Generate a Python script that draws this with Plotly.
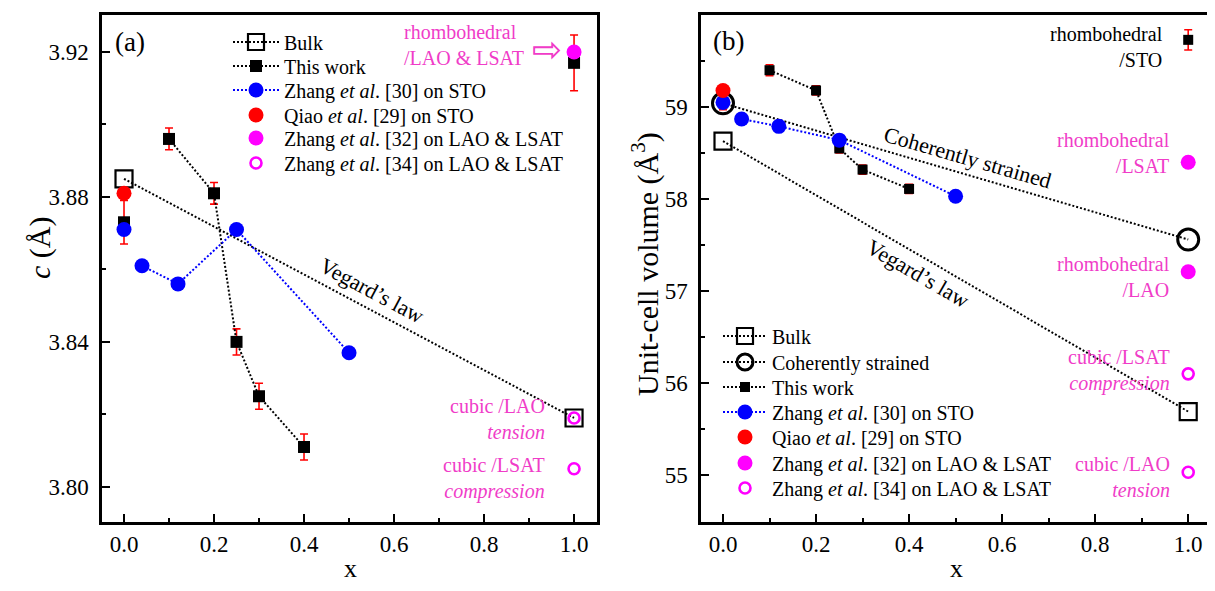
import plotly.graph_objects as go

# ---------------- Panel (a): c lattice parameter ----------------
xa_bulk = [0.0, 1.0]
ca_bulk = [3.885, 3.819]

xa_this = [0.0, None, 0.1, 0.2, 0.25, 0.3, 0.4, None, 1.0]
ca_this = [3.873, None, 3.896, 3.881, 3.840, 3.825, 3.811, None, 3.917]
ca_this_err = [0.006, 0, 0.003, 0.003, 0.0036, 0.0036, 0.0036, 0, 0.0077]
xa_this_err = [0.0, 0, 0.008, 0.008, 0.008, 0.008, 0.008, 0, 0.0]

xa_zhang30 = [0.0, None, 0.04, 0.12, 0.25, 0.5]
ca_zhang30 = [3.871, None, 3.861, 3.856, 3.871, 3.837]

xa_qiao = [0.0]
ca_qiao = [3.881]

xa_zhang32 = [1.0]
ca_zhang32 = [3.920]

xa_zhang34 = [1.0, 1.0]
ca_zhang34 = [3.819, 3.805]

# ---------------- Panel (b): unit-cell volume ----------------
xb_bulk = [0.0, 1.0]
vb_bulk = [58.63, 55.69]

xb_coh = [0.0, 1.0]
vb_coh = [59.04, 57.56]

xb_this = [0.0, None, 0.1, 0.2, 0.25, 0.3, 0.4, None, 1.0]
vb_this = [59.04, None, 59.40, 59.18, 58.55, 58.32, 58.11, None, 59.73]
vb_this_err = [0.07, 0, 0.06, 0.05, 0.05, 0.05, 0.05, 0, 0.11]
xb_this_err = [0.0, 0, 0.008, 0.008, 0.008, 0.008, 0.008, 0, 0.0]

xb_zhang30 = [0.0, None, 0.04, 0.12, 0.25, 0.5]
vb_zhang30 = [59.05, None, 58.87, 58.79, 58.64, 58.03]

xb_qiao = [0.0]
vb_qiao = [59.18]

xb_zhang32 = [1.0, 1.0]
vb_zhang32 = [58.40, 57.21]

xb_zhang34 = [1.0, 1.0]
vb_zhang34 = [56.10, 55.03]

# ---------------- styles / geometry ----------------
FONT = "Liberation Serif, Times New Roman, serif"
BLACK = "#000000"
RED = "#ff0000"
BLUE = "#0000ff"
MAG = "#ff00ff"
PINK = "#f03cc8"
DOT = "2px,2px"

# the page body has an 8px margin; figure fills the rest of the window
OFF = 8
W, H = 1215 - OFF, 591 - OFF


def px(p):  # window pixel x -> paper fraction
    return (p - OFF) / W


def py(p):  # window pixel y -> paper fraction
    return 1 - (p - OFF) / H


names = {
    "bulk": "Bulk",
    "coh": "Coherently strained",
    "this": "This work",
    "z30": "Zhang <i>et al</i>. [30] on STO",
    "qiao": "Qiao <i>et al</i>. [29] on STO",
    "z32": "Zhang <i>et al</i>. [32] on LAO &amp; LSAT",
    "z34": "Zhang <i>et al</i>. [34] on LAO &amp; LSAT",
}

fig = go.Figure()
legend_layout = {}
legend_counter = [0]


def next_legend(x_px, y_px, itemwidth):
    legend_counter[0] += 1
    n = legend_counter[0]
    key = "legend" if n == 1 else f"legend{n}"
    legend_layout[key] = dict(
        x=px(x_px), y=py(y_px), xanchor="left", yanchor="middle",
        bgcolor="rgba(0,0,0,0)", itemwidth=itemwidth, borderwidth=0,
        font=dict(family=FONT, size=20, color=BLACK))
    return key


def add_panel(xax, yax, data, this_size, leg_x, leg_rows, itemwidth):
    (xbulk, ybulk, xthis, ythis, ythis_err, xthis_err, xz30, yz30,
     xq, yq, xz32, yz32, xz34, yz34, coh) = data
    rows = iter(leg_rows)
    fig.add_trace(go.Scatter(
        x=xbulk, y=ybulk, mode="lines+markers", name=names["bulk"],
        line=dict(color=BLACK, width=2, dash=DOT),
        marker=dict(symbol="square-open", size=17, color=BLACK, line=dict(width=2.2)),
        xaxis=xax, yaxis=yax, legend=next_legend(leg_x, next(rows), itemwidth)))
    if coh is not None:
        fig.add_trace(go.Scatter(
            x=coh[0], y=coh[1], mode="lines+markers", name=names["coh"],
            line=dict(color=BLACK, width=2, dash=DOT),
            marker=dict(symbol="circle-open", size=21, color=BLACK, line=dict(width=3)),
            xaxis=xax, yaxis=yax, legend=next_legend(leg_x, next(rows), itemwidth)))
    fig.add_trace(go.Scatter(
        x=xthis, y=ythis, mode="lines+markers", name=names["this"],
        connectgaps=False,
        line=dict(color=BLACK, width=2, dash=DOT),
        marker=dict(symbol="square", size=this_size, color=BLACK),
        error_y=dict(type="data", array=ythis_err, color=RED, thickness=1.6, width=4),
        error_x=dict(type="data", array=xthis_err, color=RED, thickness=1.6, width=3),
        xaxis=xax, yaxis=yax, legend=next_legend(leg_x, next(rows), itemwidth)))
    fig.add_trace(go.Scatter(
        x=xz30, y=yz30, mode="lines+markers", name=names["z30"],
        connectgaps=False,
        line=dict(color=BLUE, width=2, dash=DOT),
        marker=dict(symbol="circle", size=15, color=BLUE),
        xaxis=xax, yaxis=yax, legend=next_legend(leg_x, next(rows), itemwidth)))
    fig.add_trace(go.Scatter(
        x=xq, y=yq, mode="markers", name=names["qiao"],
        marker=dict(symbol="circle", size=15, color=RED),
        xaxis=xax, yaxis=yax, legend=next_legend(leg_x, next(rows), itemwidth)))
    fig.add_trace(go.Scatter(
        x=xz32, y=yz32, mode="markers", name=names["z32"],
        marker=dict(symbol="circle", size=15, color=MAG),
        xaxis=xax, yaxis=yax, legend=next_legend(leg_x, next(rows), itemwidth)))
    fig.add_trace(go.Scatter(
        x=xz34, y=yz34, mode="markers", name=names["z34"],
        marker=dict(symbol="circle-open", size=11, color=MAG, line=dict(width=2.6)),
        xaxis=xax, yaxis=yax, legend=next_legend(leg_x, next(rows), itemwidth)))


add_panel("x", "y",
          (xa_bulk, ca_bulk, xa_this, ca_this, ca_this_err, xa_this_err,
           xa_zhang30, ca_zhang30, xa_qiao, ca_qiao, xa_zhang32, ca_zhang32,
           xa_zhang34, ca_zhang34, None), 12,
          228, [42, 66, 90, 115, 138, 163], 46)
add_panel("x2", "y2",
          (xb_bulk, vb_bulk, xb_this, vb_this, vb_this_err, xb_this_err,
           xb_zhang30, vb_zhang30, xb_qiao, vb_qiao, xb_zhang32, vb_zhang32,
           xb_zhang34, vb_zhang34, (xb_coh, vb_coh)), 10,
          718, [336, 362, 387, 412, 437, 463, 488], 44)

axis_common = dict(
    showline=True, linecolor=BLACK, linewidth=2.5, mirror=True,
    ticks="inside", ticklen=8, tickwidth=2, tickcolor=BLACK,
    showgrid=False, zeroline=False,
    tickfont=dict(family=FONT, size=23, color=BLACK),
)
minor_common = dict(ticklen=4, tickwidth=2, ticks="inside", tickcolor=BLACK)

ydom = [py(522), py(15)]

fig.update_layout(
    width=W, height=H,
    margin=dict(l=0, r=0, t=0, b=0),
    paper_bgcolor="white", plot_bgcolor="white",
    font=dict(family=FONT, color=BLACK),
    showlegend=True,
    xaxis=dict(axis_common, domain=[px(102), px(597)], range=[-0.0489, 1.051],
               dtick=0.2, tick0=0, tickformat=".1f",
               minor=dict(minor_common, dtick=0.1), anchor="y"),
    yaxis=dict(axis_common, domain=ydom, range=[3.7903, 3.9302],
               dtick=0.04, tick0=3.80, tickformat=".2f", ticklabelstandoff=6,
               minor=dict(minor_common, dtick=0.02), anchor="x"),
    xaxis2=dict(axis_common, domain=[px(701), px(1211)], range=[-0.0473, 1.049],
                dtick=0.2, tick0=0, tickformat=".1f",
                minor=dict(minor_common, dtick=0.1), anchor="y2"),
    yaxis2=dict(axis_common, domain=ydom, range=[54.49, 60.0],
                dtick=1, tick0=55, tickformat="d", ticklabelstandoff=6,
                minor=dict(minor_common, dtick=0.5), anchor="x2"),
    **legend_layout,
)


def ann(text, x, y, xref, yref, color=BLACK, size=20, xanchor="center", align="center",
        angle=0, family=FONT):
    fig.add_annotation(text=text, x=x, y=y, xref=xref, yref=yref, showarrow=False,
                       xanchor=xanchor, yanchor="middle", align=align, textangle=angle,
                       font=dict(family=family, size=size, color=color))


# axis titles
ann("x", px(350), py(568), "paper", "paper", size=26)
ann("x", px(956), py(568), "paper", "paper", size=26)
ann("<i>c</i> (Å)", px(40), py(248), "paper", "paper", size=30, angle=-90)
ann("Unit-cell volume (Å<sup>3</sup>)", px(645), py(264), "paper", "paper", size=30, angle=-90)

# panel (a) texts
ann("(a)", -0.025, 3.9228, "x", "y", size=27, xanchor="left")
ann("rhombohedral<br>/LAO &amp; LSAT", 0.618, 3.9218, "x", "y", color=PINK, xanchor="left", align="left")
ann("⇨", 0.94, 3.9206, "x", "y", color=PINK, size=36, family="DejaVu Sans")
ann("Vegard’s law", 0.551, 3.8543, "x", "y", size=22, angle=28)
ann("cubic /LAO<br><i>tension</i>", 0.94, 3.8186, "x", "y", color=PINK, xanchor="right", align="right")
ann("cubic /LSAT<br><i>compression</i>", 0.94, 3.8023, "x", "y", color=PINK, xanchor="right", align="right")

# panel (b) texts
ann("(b)", -0.025, 59.717, "x2", "y2", size=27, xanchor="left")
ann("rhombohedral<br>/STO", 0.9505, 59.647, "x2", "y2", xanchor="right", align="right")
ann("rhombohedral<br>/LSAT", 0.9656, 58.505, "x2", "y2", color=PINK, xanchor="right", align="right")
ann("rhombohedral<br>/LAO", 0.9656, 57.158, "x2", "y2", color=PINK, xanchor="right", align="right")
ann("cubic /LSAT<br><i>compression</i>", 0.9656, 56.141, "x2", "y2", color=PINK, xanchor="right", align="right")
ann("cubic /LAO<br><i>tension</i>", 0.9656, 54.984, "x2", "y2", color=PINK, xanchor="right", align="right")
ann("Coherently strained", 0.5247, 58.446, "x2", "y2", size=22, angle=16)
ann("Vegard’s law", 0.419, 57.196, "x2", "y2", size=22, angle=30)

fig.write_html("out.html")
